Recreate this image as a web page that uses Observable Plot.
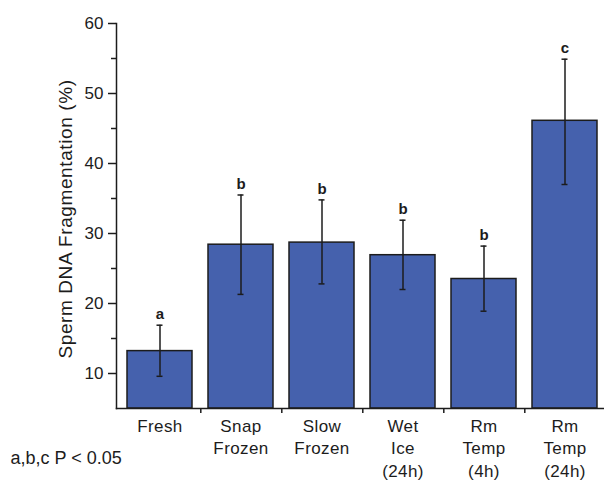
<!DOCTYPE html>
<html><head><meta charset="utf-8">
<script src="https://cdn.jsdelivr.net/npm/d3@7"></script>
<script src="https://cdn.jsdelivr.net/npm/@observablehq/plot@0.6"></script>
<style>
body{margin:0;background:#fff}
#chart{position:relative;width:604px;height:480px;overflow:hidden}
.ylab text{letter-spacing:0.6px}
.xlab text{letter-spacing:0.4px}
</style>
</head><body><div id="chart"></div>
<script>
const categories = ["Fresh","Snap Frozen","Slow Frozen","Wet Ice (24h)","Rm Temp (4h)","Rm Temp (24h)"];
const tickLabels = ["Fresh","Snap\nFrozen","Slow\nFrozen","Wet\nIce\n(24h)","Rm\nTemp\n(4h)","Rm\nTemp\n(24h)"];
const means = [13.2, 28.4, 28.7, 26.9, 23.5, 46.1];
const errLow = [9.6, 21.3, 22.8, 22.0, 18.9, 37.0];
const errHigh = [16.9, 35.5, 34.8, 31.9, 28.2, 54.9];
const letters = ["a","b","b","b","b","c"];
const majorTicks = [10,20,30,40,50,60];
const minorTicks = [15,25,35,45,55];
const yLabel = "Sperm DNA Fragmentation (%)";
const footnote = "a,b,c P < 0.05";
const yMin = 5, yMax = 60;

const data = categories.map((c,i)=>({c, mean:means[i], lo:errLow[i], hi:errHigh[i], letter:letters[i]}));
const ink = "#1c1c1c";
const barFill = "#4561ad";

const chart = Plot.plot({
  width: 604, height: 480,
  marginLeft: 116, marginRight: -3, marginTop: 23, marginBottom: 72,
  style: {fontFamily: "'Liberation Sans', Arial, sans-serif", fontSize: "16px", color: ink, background: "#fff"},
  x: {domain: categories, paddingInner: 0.2, paddingOuter: 0.1, axis: null},
  y: {domain: [yMin, yMax], axis: null},
  marks: [
    Plot.barY(data, {x: "c", y1: yMin, y2: "mean", fill: barFill, stroke: ink, strokeWidth: 1.5}),
    Plot.ruleX(data, {x: "c", y1: "lo", y2: "hi", stroke: ink, strokeWidth: 1.5}),
    Plot.tickY(data, {x: "c", y: "hi", stroke: ink, strokeWidth: 1.5, insetLeft: 29.5, insetRight: 29.5}),
    Plot.tickY(data, {x: "c", y: "lo", stroke: ink, strokeWidth: 1.5, insetLeft: 29.5, insetRight: 29.5}),
    Plot.text(data, {x: "c", y: "hi", text: "letter", dy: -11, fontSize: 15, fontWeight: "bold", fill: ink}),
    Plot.frame({anchor: "left", stroke: ink, strokeWidth: 1.5}),
    Plot.frame({anchor: "bottom", stroke: ink, strokeWidth: 1.5}),
    Plot.axisY({ticks: majorTicks, tickSize: 8, tickPadding: 5, fontSize: 17, stroke: ink, strokeWidth: 1.5, fill: ink, label: null}),
    Plot.axisY({ticks: minorTicks, tickSize: 5, tickFormat: () => "", stroke: ink, strokeWidth: 1.5, label: null}),
    Plot.ruleX(data.slice(0, 5), {x: "c", y1: yMin, y2: yMin, dx: 40.8, insetBottom: -5, stroke: ink, strokeWidth: 1.5}),
    Plot.axisX({tickSize: 0, tickPadding: 7, tickFormat: (d, i) => tickLabels[categories.indexOf(d)], fontSize: 17, lineHeight: 1.33, fill: ink, label: null, className: "xlab"}),
    Plot.text([yLabel], {frameAnchor: "left", rotate: -90, dx: -51, dy: 3, textAnchor: "middle", lineAnchor: "middle", fontSize: 19, fill: ink, className: "ylab"}),
    Plot.text([footnote], {frameAnchor: "bottom-left", dx: -106, dy: 50, textAnchor: "start", lineAnchor: "middle", fontSize: 18, fill: ink})
  ]
});
document.getElementById("chart").appendChild(chart);
</script>
</body></html>
